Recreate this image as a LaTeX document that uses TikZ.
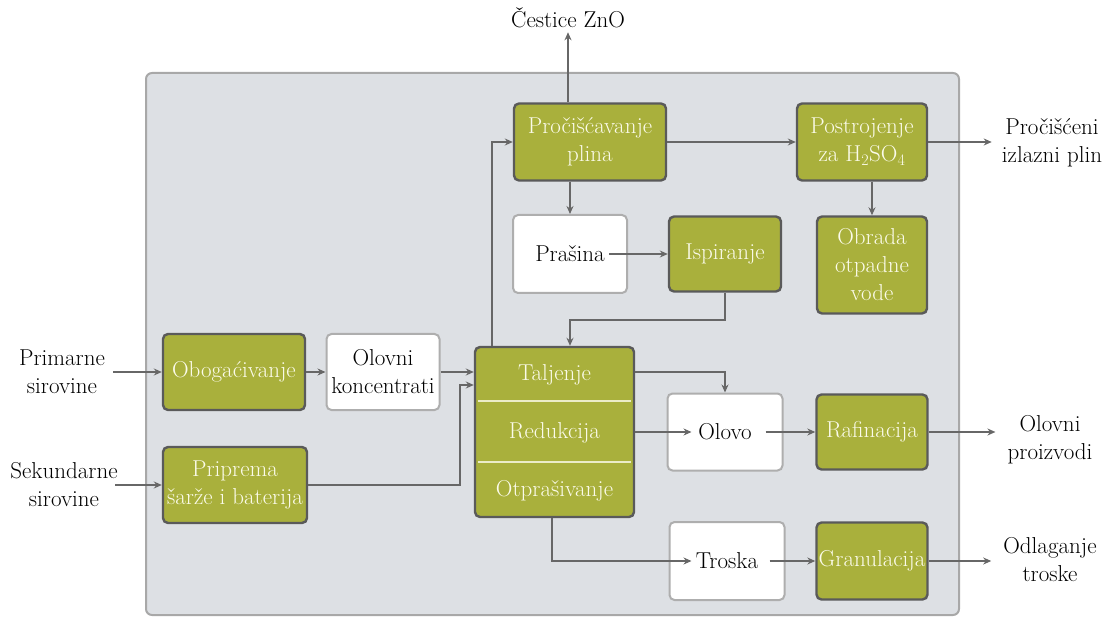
\documentclass[tikz,border=0pt]{standalone}
\usetikzlibrary{arrows.meta,calc}
\definecolor{olivebox}{HTML}{A9B03C}
\definecolor{boxedge}{HTML}{5A5A5A}
\definecolor{paneledge}{HTML}{A8A8A8}
\definecolor{panelfill}{HTML}{DDE0E4}
\definecolor{wedge}{HTML}{AEAEAE}
\definecolor{arrowc}{HTML}{676767}
\definecolor{cream}{HTML}{FBFBEA}
\begin{document}
\begin{tikzpicture}[x=1pt,y=-1pt,
  every node/.style={font=\fontsize{23}{28}\selectfont, align=center, inner sep=0pt},
  gbox/.style={draw=boxedge, fill=olivebox, line width=2.4pt, rounded corners=5pt, text=cream},
  wbox/.style={draw=wedge, fill=white, line width=2pt, rounded corners=5pt, text=black},
  lbl/.style={text=black},
  arr/.style={draw=arrowc, line width=2pt, -{Stealth[length=8pt,width=7pt]}},
  panel/.style={draw=paneledge, fill=panelfill, line width=2pt, rounded corners=6pt}]
\useasboundingbox (0,0) rectangle (1113,617);
\draw[panel] (146,73) rectangle (959,615);
% boxes
\node[gbox, minimum width=152pt, minimum height=77pt] (pur) at (590,142) {Pročišćavanje\\plina};
\node[gbox, minimum width=130pt, minimum height=77pt] (post) at (862,142) {Postrojenje\\za H\textsubscript{2}SO\textsubscript{4}};
\node[wbox, minimum width=114pt, minimum height=78pt] (pras) at (570,254) {Prašina};
\node[gbox, minimum width=112pt, minimum height=75pt] (isp) at (725,254) {Ispiranje};
\node[gbox, minimum width=110pt, minimum height=97pt] (obr) at (872,265) {Obrada\\otpadne\\vode};
\node[gbox, minimum width=142pt, minimum height=76pt] (obog) at (234,372) {Obogaćivanje};
\node[wbox, minimum width=113pt, minimum height=76pt] (olk) at (383,372) {Olovni\\koncentrati};
\node[gbox, minimum width=144pt, minimum height=76pt] (prip) at (235,485) {Priprema\\šarže i baterija};
\node[gbox, minimum width=159pt, minimum height=170pt] (main) at (554.5,432) {};
\draw[cream!80!olivebox, line width=2.5pt] ($(main.north west)+(4,55)$) -- ($(main.north east)+(-4,55)$);
\draw[cream!80!olivebox, line width=2.5pt] ($(main.north west)+(4,116)$) -- ($(main.north east)+(-4,116)$);
\node[text=cream] (talj) at (554.5,375) {Taljenje};
\node[text=cream] (red) at (554.5,433) {Redukcija};
\node[text=cream] (otp) at (554.5,491) {Otprašivanje};
\node[wbox, minimum width=115pt, minimum height=77pt] (olovo) at (725,432) {Olovo};
\node[gbox, minimum width=111pt, minimum height=75pt] (raf) at (872,432) {Rafinacija};
\node[wbox, minimum width=115pt, minimum height=78pt] (troska) at (727,561) {Troska};
\node[gbox, minimum width=111pt, minimum height=77pt] (gran) at (872,561) {Granulacija};
% outside labels
\node[lbl] (zno) at (568,18) {Čestice ZnO};
\node[lbl] (gas) at (1052,143) {Pročišćeni\\izlazni plin};
\node[lbl] (prim) at (62,372) {Primarne\\sirovine};
\node[lbl] (sek) at (64,485) {Sekundarne\\sirovine};
\node[lbl] (proiz) at (1050,440) {Olovni\\proizvodi};
\node[lbl] (odl) at (1050,560) {Odlaganje\\troske};
% junctions
\coordinate (j1) at (460,385);
\coordinate (g1) at (492,142);
\coordinate (j2) at (570,320);
% connectors
\draw[arr] (113,372) coordinate (p1) -- (obog.west);
\draw[arr] (115,485) coordinate (p2) -- (prip.west);
\draw[arr] (obog.east) -- (olk.west);
\draw[arr] (olk.east) -- (olk.east -| main.west);
\draw[arr] (prip.east) -| (j1) -- (j1 -| main.west);
\draw[arr] (g1 |- main.north) |- (pur.west);
\draw[arr] (pur.north -| zno) -- ([yshift=-4pt]zno.south);
\draw[arr] (pur.east) -- (post.west);
\draw[arr] (post.east) -- ([xshift=-10pt]gas.west |- post.east);
\draw[arr] (post.south -| obr) -- (obr.north);
\draw[arr] (pur.south -| pras) -- (pras.north);
\draw[arr] ([xshift=-19pt]pras.east) -- (isp.west);
\draw[arr] (isp.south) |- (j2) -- (j2 |- main.north);
\draw[arr] (main.east |- olk.east) -| (olovo.north);
\draw[arr] (main.east) -- ([xshift=25pt]olovo.west);
\draw[arr] ([xshift=-18pt]olovo.east) -- (raf.west);
\draw[arr] (raf.east) -- ([xshift=-12pt]proiz.west |- raf.east);
\draw[arr] (main.south -| 552,0) |- ([xshift=23pt]troska.west);
\draw[arr] ([xshift=-16pt]troska.east) -- (gran.west);
\draw[arr] (gran.east) -- ([xshift=-12pt]odl.west |- gran.east);
\end{tikzpicture}
\end{document}
